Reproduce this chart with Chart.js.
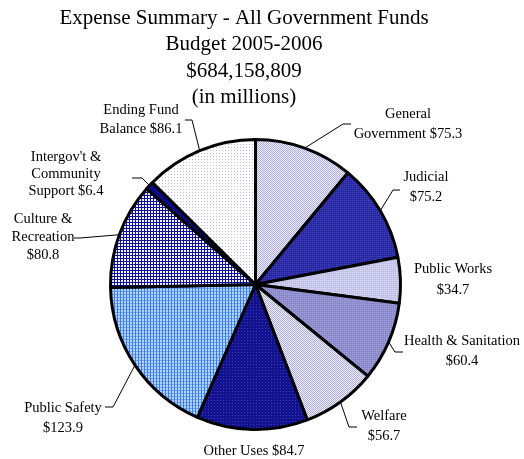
<!DOCTYPE html>
<html lang="en">
<head>
  <meta charset="UTF-8" />
  <title>Expense Summary - All Government Funds</title>
  <script src="https://cdn.jsdelivr.net/npm/chart.js"></script>
  <style>
    body { margin: 0; background: #fff; }
    canvas { display: block; }
  </style>
</head>
<body>
  <canvas id="expenseChart" width="524" height="459"></canvas>

  <script>
    const titleLines = ['Expense Summary - All Government Funds', 'Budget 2005-2006', '$684,158,809', '(in millions)'];
    // "{v}" gets the amount, "\n" breaks the label onto a new line
    const categories = [
      'General\nGovernment {v}',
      'Judicial\n{v}',
      'Public Works\n{v}',
      'Health & Sanitation\n{v}',
      'Welfare\n{v}',
      'Other Uses {v}',
      'Public Safety\n{v}',
      'Culture &\nRecreation\n{v}',
      "Intergov't &\nCommunity\nSupport {v}",
      'Ending Fund\nBalance {v}'
    ];
    const amounts = [75.3, 75.2, 34.7, 60.4, 56.7, 84.7, 123.9, 80.8, 6.4, 86.1];

    // where each label sits and how its leader line bends
    const labelLayout = [
      { x: 408, y: 114, lh: 20, elbow: [343, 124], end: [351, 124] },
      { x: 426, y: 177, lh: 20, elbow: [393, 190], end: [400, 190] },
      { x: 453, y: 269, lh: 21 },
      { x: 462, y: 341, lh: 20, elbow: [395, 352], end: [403, 352] },
      { x: 384, y: 416, lh: 20, elbow: [349, 427], end: [357, 427] },
      { x: 254, y: 451, lh: 20 },
      { x: 63, y: 408, lh: 20, elbow: [113, 407], end: [105, 407] },
      { x: 43, y: 219, lh: 18, elbow: [80, 238], end: [74, 238] },
      { x: 66, y: 157, lh: 17, elbow: [142, 178], end: [132, 178] },
      { x: 141, y: 110, lh: 19, elbow: [192, 120], end: [185, 120] }
    ];

    // small tiles for the dotted / hatched fills
    function makePattern(size, bg, dots) {
      const c = document.createElement('canvas');
      c.width = size; c.height = size;
      const g = c.getContext('2d');
      g.fillStyle = bg;
      g.fillRect(0, 0, size, size);
      dots.forEach(([x, y, col]) => {
        g.fillStyle = col;
        g.fillRect(x, y, 1, 1);
      });
      return g.createPattern(c, 'repeat');
    }

    const fills = [
      makePattern(2, '#ececfa', [[0, 0, '#aeaee2'], [1, 1, '#aeaee2']]),
      makePattern(2, '#2828a2', [[0, 0, '#4444ba']]),
      makePattern(2, '#c2c2e8', [[0, 0, '#dcdcf4']]),
      makePattern(2, '#8a8acb', [[0, 0, '#a4a4da']]),
      makePattern(2, '#eeeefc', [[0, 0, '#aeaede'], [1, 1, '#aeaede']]),
      makePattern(3, '#12128e', [[1, 1, '#3c3cb2']]),
      makePattern(3, '#b4d4fc', [[0, 0, '#3a7ce4'], [0, 1, '#3a7ce4'], [0, 2, '#3a7ce4'], [1, 0, '#6aa2ee'], [2, 0, '#6aa2ee']]),
      makePattern(3, '#f4f4ff', [[0, 0, '#10109a'], [1, 0, '#10109a'], [2, 0, '#10109a'], [0, 1, '#10109a'], [0, 2, '#10109a']]),
      '#0a0a84',
      makePattern(3, '#ffffff', [[0, 0, '#b8b8e6']])
    ];

    const SERIF = '"Liberation Serif", "Times New Roman", serif';

    const labelsPlugin = {
      id: 'labels',
      afterDraw(chart) {
        const ctx = chart.ctx;
        ctx.save();
        ctx.fillStyle = '#000';
        ctx.textAlign = 'center';
        ctx.textBaseline = 'middle';

        ctx.font = '21px ' + SERIF;
        titleLines.forEach((t, i) => ctx.fillText(t, 244, 18 + i * 26.5));

        const arcs = chart.getDatasetMeta(0).data;
        ctx.font = '14.5px ' + SERIF;
        ctx.strokeStyle = '#000';
        ctx.lineWidth = 1;
        categories.forEach((cat, i) => {
          const lay = labelLayout[i];
          const text = cat.replace('{v}', '$' + amounts[i].toFixed(1)).split('\n');
          text.forEach((line, j) => ctx.fillText(line, lay.x, lay.y + j * lay.lh));

          if (lay.elbow) {
            const a = arcs[i].getProps(['x', 'y', 'startAngle', 'endAngle', 'outerRadius']);
            const mid = (a.startAngle + a.endAngle) / 2;
            ctx.beginPath();
            ctx.moveTo(a.x + Math.cos(mid) * a.outerRadius, a.y + Math.sin(mid) * a.outerRadius);
            ctx.lineTo(lay.elbow[0], lay.elbow[1]);
            ctx.lineTo(lay.end[0], lay.end[1]);
            ctx.stroke();
          }
        });
        ctx.restore();
      }
    };

    new Chart(document.getElementById('expenseChart'), {
      type: 'pie',
      data: {
        labels: categories.map(c => c.replace('{v}', '').replace(/\n/g, ' ').trim()),
        datasets: [{
          data: amounts,
          backgroundColor: fills,
          borderColor: '#000',
          borderWidth: 3
        }]
      },
      options: {
        responsive: false,
        animation: false,
        layout: { padding: { left: 109, right: 122, top: 138, bottom: 28 } },
        plugins: {
          legend: { display: false },
          tooltip: { enabled: false }
        }
      },
      plugins: [labelsPlugin]
    });
  </script>
</body>
</html>
